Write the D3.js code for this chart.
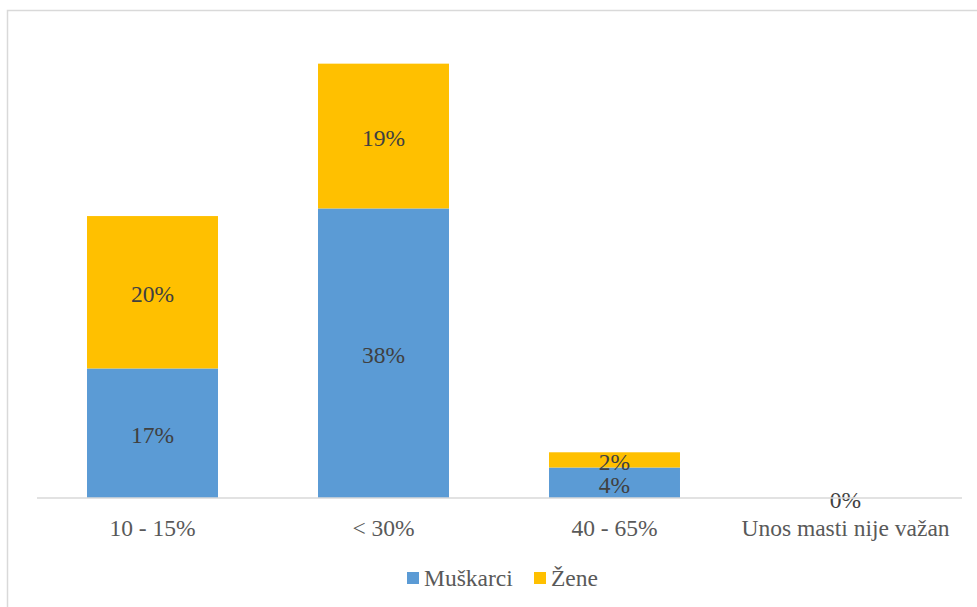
<!DOCTYPE html>
<html>
<head>
<meta charset="utf-8">
<script src="https://cdn.jsdelivr.net/npm/d3@7"></script>
<style>
body { margin: 0; background: #fff; }
svg { display: block; }
</style>
</head>
<body>
<svg class="chart"></svg>
<script>
var categories = ["10 - 15%", "< 30%", "40 - 65%", "Unos masti nije važan"];
var muskarci = [17, 38, 4, 0];
var zene = [20, 19, 2, 0];
var seriesNames = ["Muškarci", "Žene"];
var colors = ["#5b9bd5", "#ffc000"];

var width = 977, height = 607;
var margin = { top: 41, right: 16, bottom: 109, left: 37 }; // plot area inside frame
var font = "Liberation Serif";

var chart = d3.select(".chart")
    .attr("width", width)
    .attr("height", height);

// outer frame (cut off right/bottom like the reference)
chart.append("rect")
    .attr("x", 7.5).attr("y", 10.5)
    .attr("width", 1000).attr("height", 700)
    .attr("fill", "none")
    .attr("stroke", "#d9d9d9")
    .attr("stroke-width", 1.5);

var x = d3.scaleBand()
    .domain(categories)
    .range([margin.left, width - margin.right])
    .paddingInner(0.433)
    .paddingOuter(0.2165);

var y = d3.scaleLinear()
    .domain([0, 60])
    .range([498, 498 - 60 * 7.62]);

var rows = categories.map(function(c, i) {
    return { cat: c, "Muškarci": muskarci[i], "Žene": zene[i] };
});
var stacked = d3.stack().keys(seriesNames)(rows);

var g = chart.append("g");

g.selectAll("g.series")
    .data(stacked)
    .enter()
    .append("g")
    .attr("class", "series")
    .attr("fill", function(d, i) { return colors[i]; })
    .selectAll("rect")
    .data(function(d) { return d; })
    .enter()
    .append("rect")
    .attr("x", function(d) { return x(d.data.cat); })
    .attr("width", x.bandwidth())
    .attr("y", function(d) { return y(d[1]); })
    .attr("height", function(d) { return y(d[0]) - y(d[1]); });

// baseline
chart.append("line")
    .attr("x1", margin.left).attr("x2", width - margin.right + 1)
    .attr("y1", y(0)).attr("y2", y(0))
    .attr("stroke", "#d9d9d9")
    .attr("stroke-width", 1.5);

// value labels
stacked.forEach(function(s) {
    s.forEach(function(d) {
        var v = d[1] - d[0];
        if (v === 0 && s.key !== "Muškarci") return;
        g.append("text")
            .attr("x", x(d.data.cat) + x.bandwidth() / 2)
            .attr("y", (y(d[0]) + y(d[1])) / 2)
            .attr("dy", "0.42em")
            .attr("text-anchor", "middle")
            .attr("font-family", font)
            .attr("font-size", "23.5px")
            .attr("fill", "#404040")
            .text(v + "%");
    });
});

// category axis labels
chart.append("g")
    .selectAll("text")
    .data(categories)
    .enter()
    .append("text")
    .attr("x", function(d) { return x(d) + x.bandwidth() / 2; })
    .attr("y", 536)
    .attr("text-anchor", "middle")
    .attr("font-family", font)
    .attr("font-size", "23.5px")
    .attr("fill", "#595959")
    .text(function(d) { return d; });

// legend
var legendX = [407, 534];
var legend = chart.append("g");
seriesNames.forEach(function(n, i) {
    legend.append("rect")
        .attr("x", legendX[i]).attr("y", 572)
        .attr("width", 12).attr("height", 12)
        .attr("fill", colors[i]);
    legend.append("text")
        .attr("x", legendX[i] + 17).attr("y", 586)
        .attr("font-family", font)
        .attr("font-size", "23.5px")
        .attr("fill", "#595959")
        .text(n);
});
</script>
</body>
</html>
